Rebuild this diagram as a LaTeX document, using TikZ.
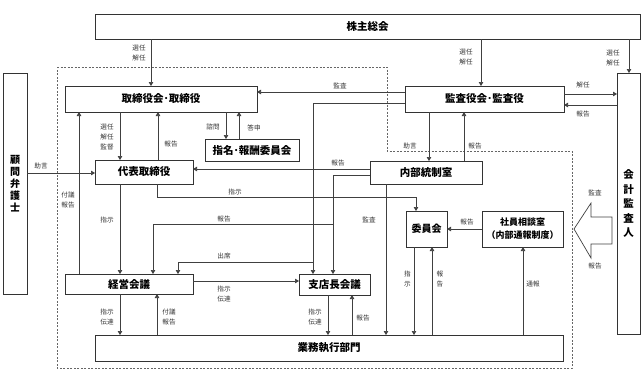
\documentclass[tikz,border=0pt]{standalone}
\usepackage{fontspec}
\setmainfont{Noto Sans CJK JP}
\usetikzlibrary{arrows.meta}
\begin{document}
\begin{tikzpicture}[x=1pt,y=-1pt,
  box/.style={draw=black!80, line width=0.8pt, fill=white, inner sep=0pt, outer sep=0pt, align=center, font=\fontsize{10.5}{12}\selectfont\bfseries},
  lbl/.style={font=\fontsize{6.6}{10}\selectfont, text=black!80, inner sep=0pt, align=center},
  con/.style={draw=black!75, line width=0.7pt},
  arr/.style={con, -{Triangle[length=4pt,width=4.5pt]}},
  dashbox/.style={draw=black!60, line width=0.7pt, dash pattern=on 2pt off 1.5pt},
]
\useasboundingbox (0,0) rectangle (644,375);
% dashed area
\draw[dashbox] (57,67) -- (387,67) -- (387,151) -- (572,151) -- (572,368) -- (57,368) -- cycle;

% boxes
\node[box, minimum width=545pt, minimum height=25pt] (kabu) at (367.5,26.5) {株主総会};
\node[box, minimum width=192pt, minimum height=26pt] (tori) at (161,99) {取締役会･取締役};
\node[box, minimum width=159pt, minimum height=26pt] (kansa) at (484.5,99) {監査役会･監査役};
\node[box, minimum width=23pt, minimum height=261pt, font=\fontsize{10.5}{14.5}\selectfont\bfseries] (kaikei) at (628.5,203.5) {会\\計\\監\\査\\人};
\node[box, minimum width=24pt, minimum height=221pt, font=\fontsize{10}{12}\selectfont\bfseries] (komon) at (15,183.5) {顧\\問\\弁\\護\\士};
\node[box, minimum width=94pt, minimum height=22pt] (shimei) at (252,150) {指名･報酬委員会};
\node[box, minimum width=98pt, minimum height=24pt] (daihyo) at (144,172) {代表取締役};
\node[box, minimum width=112pt, minimum height=23pt] (naibu) at (426,172.5) {内部統制室};
\node[box, minimum width=41pt, minimum height=36pt, font=\fontsize{10}{12}\selectfont\bfseries] (iinkai) at (426.5,229) {委員会};
\node[box, minimum width=81pt, minimum height=36pt, font=\fontsize{9}{13}\selectfont\bfseries] (shain) at (522.5,229) {社員相談室\\（内部通報制度）};
\node[box, minimum width=128pt, minimum height=20pt] (keiei) at (129,284) {経営会議};
\node[box, minimum width=71pt, minimum height=21pt] (shiten) at (334.5,284.5) {支店長会議};
\node[box, minimum width=468pt, minimum height=26pt] (gyomu) at (329,348) {業務執行部門};

% connectors from 株主総会
\draw[arr] (151,0 |- kabu.south) -- (151,0 |- tori.north);
\node[lbl] (l1) at (139,53) {選任\\解任};
\draw[arr] (481,0 |- kabu.south) -- (481,0 |- kansa.north);
\node[lbl] (l2) at (466,56.5) {選任\\解任};
\draw[arr] (629,0 |- kabu.south) -- (629,0 |- kaikei.north);
\node[lbl] (l3) at (613,58) {選任\\解任};

% 監査役会 <-> 会計監査人
\draw[arr] (kansa.east |- 0,94) -- (kaikei.west |- 0,94);
\node[lbl] (l4) at (583,85) {解任};
\draw[arr] (kaikei.west |- 0,105) -- (kansa.east |- 0,105);
\node[lbl] (l5) at (583,114) {報告};

% 監査役会 -> 取締役会
\draw[arr] (kansa.west |- 0,92) -- (tori.east |- 0,92);
\node[lbl] (l6) at (340,86) {監査};

% 監査役会 -> 支店長会議 / 経営会議
\draw[arr] (kansa.west |- 0,103) -| (313,0 |- shiten.north);
\coordinate (j1) at (313,262);
\draw[arr] (j1) -| (178,0 |- keiei.north);
\node[lbl] (l7) at (224,256) {出席};

% 内部統制室 -> 支店長会議 / 経営会議
\draw[arr] (naibu.west |- 0,175) -| (333,0 |- shiten.north);
\coordinate (j2) at (333,224);
\draw[arr] (j2) -| (153,0 |- keiei.north);
\node[lbl] (l8) at (224,219) {報告};

% 内部統制室 -> 代表取締役
\draw[arr] (naibu.west |- 0,169) -- (daihyo.east |- 0,169);
\node[lbl] (l9) at (338,163) {報告};

% 代表取締役 -> 委員会
\draw[arr] (157,0 |- daihyo.south) |- (416,197) -- (416,0 |- iinkai.north);
\node[lbl] (l10) at (235,192) {指示};

% 代表取締役 <-> 取締役会
\draw[arr] (158,0 |- daihyo.north) -- (158,0 |- tori.south);
\node[lbl] (l11) at (171,144) {報告};
\draw[arr] (120,0 |- tori.south) -- (120,0 |- daihyo.north);
\node[lbl] (l12) at (107,137) {選任\\解任\\監督};

% 経営会議 -> 取締役会
\draw[arr] (79,0 |- keiei.north) -- (79,0 |- tori.south);
\node[lbl] (l13) at (68,200) {付議\\報告};

% 顧問弁護士 -> 代表取締役
\draw[arr] (komon.east |- 0,173) -- (daihyo.west |- 0,173);
\node[lbl] (l14) at (41,166) {助言};

% 取締役会 <-> 指名・報酬委員会
\draw[arr] (226,0 |- tori.south) -- (226,0 |- shimei.north);
\node[lbl] (l15) at (213,127) {諮問};
\draw[arr] (239,0 |- shimei.north) -- (239,0 |- tori.south);
\node[lbl] (l16) at (254,128) {答申};

% 代表取締役 -> 経営会議
\draw[arr] (120,0 |- daihyo.south) -- (120,0 |- keiei.north);
\node[lbl] (l17) at (107,220) {指示};

% 経営会議 -> 支店長会議
\draw[arr] (keiei.east |- 0,281) -- (shiten.west |- 0,281);
\node[lbl] (l18) at (224,293.5) {指示\\伝達};

% 経営会議 <-> 業務執行部門
\draw[arr] (120,0 |- keiei.south) -- (120,0 |- gyomu.north);
\node[lbl] (l19) at (107,317) {指示\\伝達};
\draw[arr] (157,0 |- gyomu.north) -- (157,0 |- keiei.south);
\node[lbl] (l20) at (169,317) {付議\\報告};

% 支店長会議 <-> 業務執行部門
\draw[arr] (328,0 |- shiten.south) -- (328,0 |- gyomu.north);
\node[lbl] (l21) at (315,317) {指示\\伝達};
\draw[arr] (352,0 |- gyomu.north) -- (352,0 |- shiten.south);
\node[lbl] (l22) at (363,318) {報告};

% 監査役会 <-> 内部統制室
\draw[arr] (429,0 |- kansa.south) -- (429,0 |- naibu.north);
\node[lbl] (l23) at (410,146) {助言};
\draw[arr] (464,0 |- naibu.north) -- (464,0 |- kansa.south);
\node[lbl] (l24) at (475,146) {報告};

% 内部統制室 -> 業務執行部門
\draw[arr] (386,0 |- naibu.south) -- (386,0 |- gyomu.north);
\node[lbl] (l25) at (369,220) {監査};

% 委員会 <-> 業務執行部門
\draw[arr] (414,0 |- iinkai.south) -- (414,0 |- gyomu.north);
\node[lbl] (l26) at (407.5,279) {指\\示};
\draw[arr] (432,0 |- gyomu.north) -- (432,0 |- iinkai.south);
\node[lbl] (l27) at (440,279) {報\\告};

% 社員相談室 -> 委員会
\draw[arr] (shain.west |- 0,229) -- (iinkai.east |- 0,229);
\node[lbl] (l28) at (467,222) {報告};

% 業務執行部門 -> 社員相談室
\draw[arr] (523,0 |- gyomu.north) -- (523,0 |- shain.south);
\node[lbl] (l29) at (533,284) {通報};

% big hollow arrow
\draw[con, fill=white] (574,229) -- (591,203) -- (591,217) -- (612,217) -- (612,244) -- (591,244) -- (591,258) -- cycle;
\node[lbl] (l30) at (595,193) {監査};
\node[lbl] (l31) at (595,266) {報告};
\end{tikzpicture}
\end{document}
